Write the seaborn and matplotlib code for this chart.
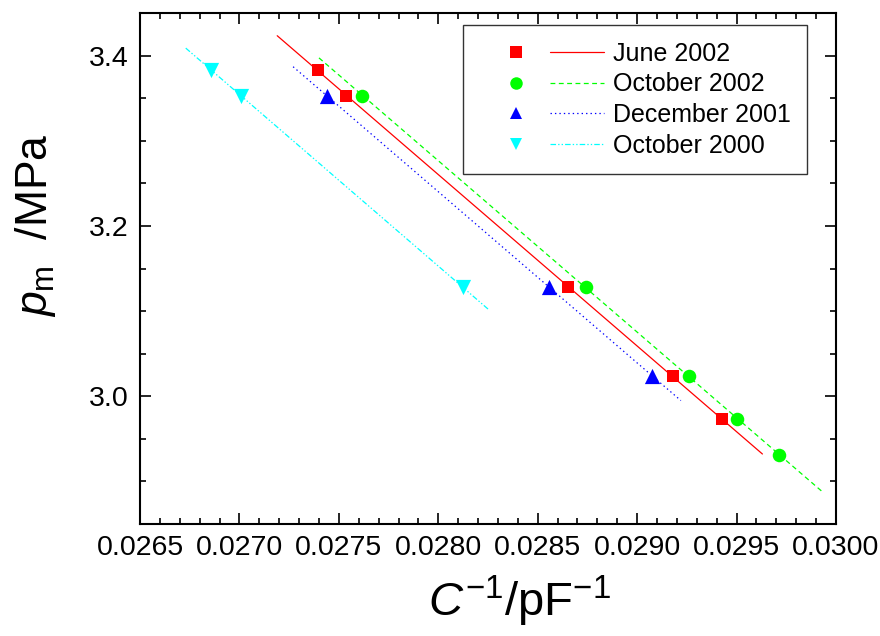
import numpy as np
import pandas as pd
import seaborn as sns
import matplotlib.pyplot as plt
from matplotlib.lines import Line2D
from matplotlib.legend_handler import HandlerTuple
from matplotlib.ticker import MultipleLocator

# Measured points (C^-1 in pF^-1, p_m in MPa)
series_names = ["June 2002", "October 2002", "December 2001", "October 2000"]

june_2002_x = [0.027394, 0.027536, 0.028654, 0.029179, 0.029425]
june_2002_y = [3.383, 3.353, 3.128, 3.024, 2.973]

oct_2002_x = [0.027618, 0.028741, 0.029261, 0.029504, 0.029715]
oct_2002_y = [3.353, 3.128, 3.024, 2.973, 2.931]

dec_2001_x = [0.027439, 0.028557, 0.029076]
dec_2001_y = [3.353, 3.128, 3.024]

oct_2000_x = [0.026857, 0.027008, 0.028123]
oct_2000_y = [3.383, 3.353, 3.128]

# x-range over which each linear fit is drawn
fit_x_start = [0.02719, 0.02740, 0.02727, 0.02673]
fit_x_end = [0.02963, 0.02993, 0.02922, 0.02825]

colors = ["#ff0000", "#00ff00", "#0000ff", "#00ffff"]
markers = ["s", "o", "^", "v"]
marker_sizes = [75, 95, 120, 120]
dashes = ["-", (0, (3.5, 2.5)), (0, (1, 2.2)), (0, (4, 1.5, 1, 1.5, 1, 1.5))]

xs = [june_2002_x, oct_2002_x, dec_2001_x, oct_2000_x]
ys = [june_2002_y, oct_2002_y, dec_2001_y, oct_2000_y]

df = pd.concat(
    [pd.DataFrame({"x": x, "y": y, "series": name}) for name, x, y in zip(series_names, xs, ys)],
    ignore_index=True,
)


class ShiftedTuple(HandlerTuple):
    # push the marker/line pair a bit to the right inside the legend box
    shift = 7.0

    def create_artists(self, legend, orig_handle, xdescent, ydescent, width, height,
                       fontsize, trans):
        return super().create_artists(legend, orig_handle, xdescent - self.shift, ydescent,
                                      width - self.shift, height, fontsize, trans)


sns.set_theme(style="ticks")
plt.rcParams["font.family"] = ["Liberation Sans", "DejaVu Sans"]
plt.rcParams["mathtext.fontset"] = "custom"
plt.rcParams["mathtext.rm"] = "Liberation Sans"
plt.rcParams["mathtext.it"] = "Liberation Sans:italic"
plt.rcParams["lines.scale_dashes"] = False
plt.rcParams["text.color"] = "black"
plt.rcParams["axes.labelcolor"] = "black"

fig = plt.figure(figsize=(8.8, 6.36), dpi=100)
ax = fig.add_axes([140 / 880, 1 - 524 / 636, 696 / 880, 511 / 636])

# fitted lines
for name, x, y, c, ls, x0, x1 in zip(series_names, xs, ys, colors, dashes, fit_x_start, fit_x_end):
    k, b = np.polyfit(x, y, 1)
    fx = np.array([x0, x1])
    ax.plot(fx, k * fx + b, color=c, linestyle=ls, linewidth=0.9, zorder=2)

# points
for name, c, m, s in zip(series_names, colors, markers, marker_sizes):
    sns.scatterplot(data=df[df["series"] == name], x="x", y="y", color=c, marker=m,
                    s=s, linewidth=0, ax=ax, zorder=3, legend=False)

ax.set_xlim(0.0265, 0.0300)
ax.set_ylim(2.85, 3.45)
ax.xaxis.set_major_locator(MultipleLocator(0.0005))
ax.xaxis.set_minor_locator(MultipleLocator(0.0001))
ax.yaxis.set_major_locator(MultipleLocator(0.2))
ax.yaxis.set_minor_locator(MultipleLocator(0.05))
ax.xaxis.set_major_formatter(plt.FuncFormatter(lambda v, p: f"{v:.4f}"))
ax.yaxis.set_major_formatter(plt.FuncFormatter(lambda v, p: f"{v:.1f}"))

for sp in ax.spines.values():
    sp.set_visible(True)
    sp.set_linewidth(1.5)
    sp.set_color("black")
ax.tick_params(which="both", direction="in", top=True, right=True, color="black", width=1.2,
               labelcolor="black")
ax.tick_params(which="major", length=8, labelsize=20.5)
ax.tick_params(axis="x", which="major", pad=8)
ax.tick_params(axis="y", which="major", pad=8.5)
ax.tick_params(which="minor", length=4.5)

ax.set_xlabel(r"$\mathit{C}^{\mathrm{-1}}$/pF$^{\mathrm{-1}}$", fontsize=34)
ax.xaxis.set_label_coords(0.545, -0.098)
ax.set_ylabel(r"$\mathit{p}_{\mathrm{m}}$  /MPa", fontsize=32)
ax.yaxis.set_label_coords(-0.118, 0.585)

handles = []
for c, m, ls in zip(colors, markers, dashes):
    mk = Line2D([], [], color=c, marker=m, linestyle="none", markersize=9 if m != "s" else 8,
                markeredgewidth=0)
    ln = Line2D([], [], color=c, linestyle=ls, linewidth=0.9)
    handles.append((mk, ln))

leg = ax.legend(handles, series_names, handler_map={tuple: ShiftedTuple(ndivide=2, pad=0.3)},
                loc="upper left", bbox_to_anchor=(0.464, 0.976), borderaxespad=0,
                fontsize=18, handlelength=5.0, handletextpad=0.35, labelspacing=0.27,
                borderpad=0.65, frameon=True, fancybox=False)
leg.get_frame().set_edgecolor("black")
leg.get_frame().set_linewidth(1.0)

fig.savefig("out.png", dpi=100)
